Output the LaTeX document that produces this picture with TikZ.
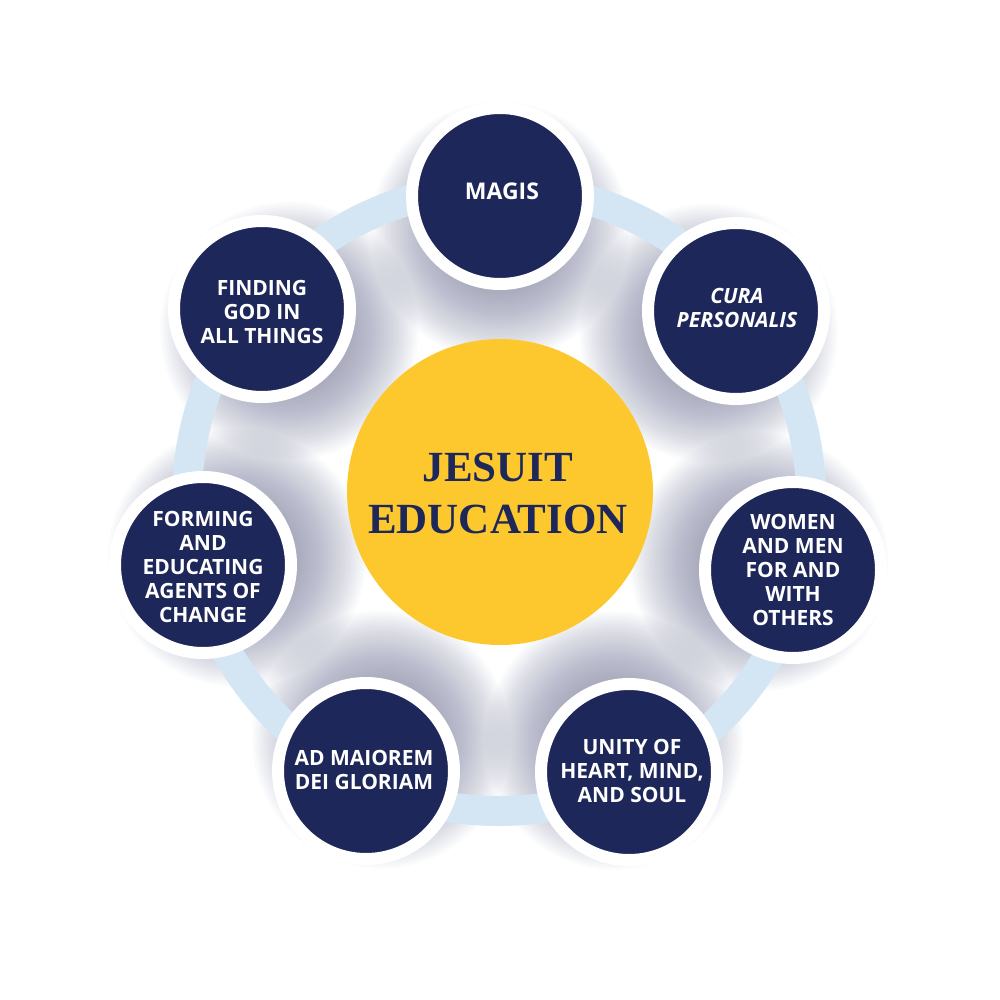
\documentclass[tikz,border=0pt]{standalone}
\usepackage{fontspec}
\setmainfont{Liberation Serif}
\newfontfamily\lblfont{Open Sans}
\usetikzlibrary{calc}

\definecolor{navy}{RGB}{29,39,89}
\definecolor{gold}{RGB}{253,200,46}
\definecolor{ringblue}{RGB}{212,230,243}
\definecolor{shadowgray}{RGB}{126,129,162}

\tikzset{
  value/.style={circle, fill=navy, draw=white, line width=12pt, minimum size=176pt, inner sep=0pt, outer sep=0pt},
  valtext/.style={text=white, align=center, font=\lblfont\bfseries\fontsize{21pt}{24pt}\selectfont, inner sep=0pt},
  softshadow/.style={shadowgray, opacity=0.03},
}

\begin{document}
\begin{tikzpicture}[x=1pt,y=-1pt]
\useasboundingbox (0,0) rectangle (1000,1000);
\fill[white] (0,0) rectangle (1000,1000);

\coordinate (ctr) at (499,499);
\coordinate (p1) at (500,196);
\coordinate (p2) at (736,311);
\coordinate (p3) at (793,570);
\coordinate (p4) at (629,772);
\coordinate (p5) at (366,771);
\coordinate (p6) at (203,565);
\coordinate (p7) at (262,309);

% soft shadows, built from stacked translucent discs
\foreach \p in {p1,p2,p3,p4,p5,p6,p7}{
  \foreach \r in {59,61.5,...,129}{
    \fill[softshadow] ($(\p)!35pt!(ctr)$) circle[radius=\r pt];
  }
}

% ring
\draw[ringblue, line width=30pt] (ctr) circle[radius=312pt];

% centre
\node[circle, fill=gold, minimum size=306pt, inner sep=0pt] (core) at (500,492) {};
\node[text=navy, align=center, font=\bfseries\fontsize{43pt}{52pt}\selectfont, inner sep=0pt] (coretext) at (498,493) {JESUIT\\EDUCATION};

% values
\node[value] (magis) at (p1) {};
\node[value] (cura) at (p2) {};
\node[value] (women) at (p3) {};
\node[value] (unity) at (p4) {};
\node[value] (admaiorem) at (p5) {};
\node[value] (forming) at (p6) {};
\node[value] (finding) at (p7) {};

\node[valtext, font=\lblfont\bfseries\fontsize{23pt}{26pt}\selectfont] (magist) at (502,191) {MAGIS};
\node[valtext, font=\lblfont\bfseries\itshape\fontsize{21pt}{24pt}\selectfont] (curat) at (737,308) {CURA\\PERSONALIS};
\node[valtext] (woment) at (793,570) {WOMEN\\AND MEN\\FOR AND\\WITH\\OTHERS};
\node[valtext] (unityt) at (632,771) {UNITY OF\\HEART, MIND,\\AND SOUL};
\node[valtext] (admaioremt) at (364,770) {AD MAIOREM\\DEI GLORIAM};
\node[valtext] (formingt) at (203,567) {FORMING\\AND\\EDUCATING\\AGENTS OF\\CHANGE};
\node[valtext] (findingt) at (262,312) {FINDING\\GOD IN\\ALL THINGS};
\end{tikzpicture}
\end{document}
